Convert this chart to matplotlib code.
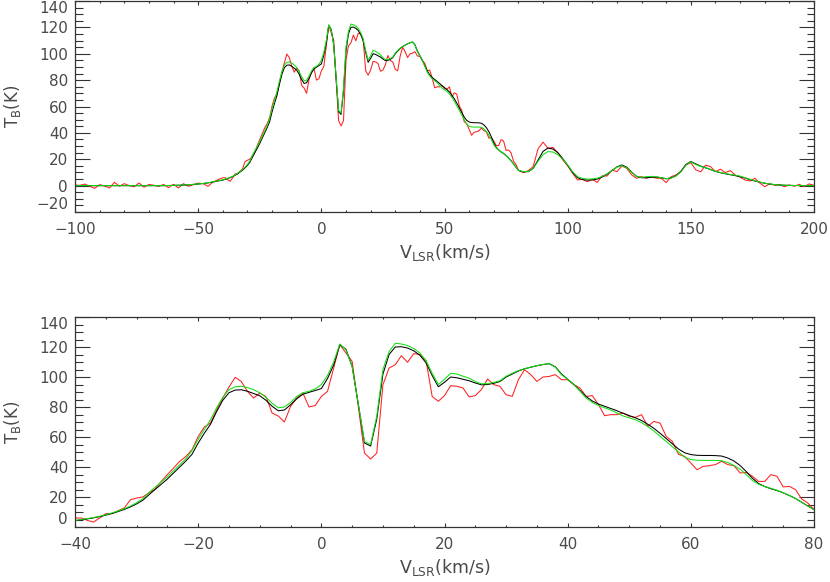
import numpy as np
import matplotlib
matplotlib.use("Agg")
import matplotlib.pyplot as plt
from matplotlib.ticker import MultipleLocator

plt.rcParams["font.family"] = ["DejaVu Sans"]
plt.rcParams["mathtext.default"] = "regular"

# velocity grids (km/s): coarse outside, 1 km/s in the zoomed range
v_lo = np.arange(-100, -41, 2)
v_mid = np.arange(-40, 81, 1)
v_hi = np.arange(82, 201, 2)

# observed spectrum (red)
red_lo = [0.5, 0.2, 1.2, -0.5, -2.0, 0.8, -0.3, -1.8, 2.5, -0.4,
          1.5, 0.0, -0.8, 2.0, -1.2, 0.9, 0.3, -0.6, 0.9, -1.5,
          1.0, -1.8, 1.5, -0.5, 0.7, 1.9, 1.5, -0.5, 2.8, 4.5]
red_mid = [6.0, 6.0, 4.4, 3.3, 6.0, 8.9, 8.9, 10.9, 12.7, 18.2,
           19.3, 20.0, 22.7, 25.3, 30.4, 35.0, 39.3, 43.8, 47.0, 51.6,
           60.4, 66.7, 69.3, 78.2, 86.0, 93.3, 99.8, 97.0, 90.4, 86.0,
           89.3, 87.0, 76.0, 74.0, 70.0, 80.4, 86.0, 89.3, 80.0, 81.0,
           87.0, 90.4, 106.0, 121.6, 116.0, 110.4, 80.4, 49.3, 45.3, 49.3,
           94.9, 106.0, 108.2, 114.2, 109.8, 115.6, 115.0, 111.0, 87.0, 83.8,
           87.6, 94.2, 93.8, 92.7, 86.7, 87.6, 91.6, 98.7, 94.9, 93.8,
           88.2, 87.1, 98.2, 104.9, 101.6, 97.1, 100.0, 100.4, 101.6, 98.2,
           98.2, 94.9, 92.7, 87.1, 87.6, 81.6, 74.2, 74.9, 74.9, 76.0,
           73.8, 73.1, 74.9, 67.1, 70.4, 69.3, 60.4, 57.1, 48.4, 47.1,
           42.7, 38.2, 40.4, 40.9, 41.6, 43.8, 41.6, 40.9, 36.0, 36.4,
           33.8, 30.4, 30.4, 34.9, 33.8, 26.7, 27.1, 24.9, 18.7, 16.0,
           11.6]
red_hi = [9.9, 11.4, 14.4, 28.0, 33.0, 28.3, 29.0, 25.0, 19.5, 15.0,
          9.4, 4.3, 4.8, 3.0, 4.8, 2.5, 7.5, 7.3, 11.9, 10.6,
          14.9, 13.1, 8.1, 5.6, 6.8, 5.6, 6.8, 5.6, 5.6, 2.3,
          6.8, 8.1, 10.6, 15.7, 17.4, 12.0, 10.5, 15.5, 14.4, 10.6,
          12.5, 9.9, 11.4, 8.1, 6.5, 4.3, 3.5, 5.6, 2.0, -0.8,
          1.3, 0.3, 0.8, -0.8, 0.5, -0.5, 1.0, -0.8, 1.3, 0.3]

# model fit (black)
black_lo = [0.0] * 19 + [0.1,
            0.2, 0.3, 0.4, 0.6, 0.9, 1.2, 1.6, 2.1, 2.7, 3.5]
black_mid = [4.2, 4.8, 5.4, 6.1, 6.9, 7.9, 9.0, 10.3, 11.7, 13.4,
             15.4, 17.8, 21.5, 25.0, 28.5, 32.0, 36.0, 40.0, 44.0, 48.5,
             56.0, 62.5, 68.5, 77.0, 84.5, 89.5, 91.3, 91.5, 90.5, 89.0,
             87.5, 84.5, 80.5, 77.5, 78.0, 81.5, 85.5, 88.5, 89.8, 91.0,
             92.3, 99.0, 108.0, 121.5, 118.5, 107.0, 82.0, 56.0, 54.0, 72.0,
             102.0, 115.0, 120.0, 120.2, 119.3, 117.5, 114.5, 109.5, 101.0, 93.5,
             96.5, 100.0, 99.5, 98.5, 97.5, 96.0, 94.8, 95.0, 95.8, 97.0,
             100.0, 102.0, 104.0, 105.5, 106.5, 107.5, 108.3, 108.9, 106.8, 102.0,
             98.5, 95.0, 91.0, 87.0, 84.0, 82.0, 80.5, 79.0, 77.5, 75.8,
             74.3, 72.8, 71.0, 68.5, 65.8, 62.5, 59.0, 55.5, 52.0, 49.5,
             48.3, 47.8, 47.7, 47.7, 47.6, 47.3, 46.0, 44.0, 41.0, 37.0,
             32.5, 29.0, 27.0, 25.5, 24.3, 22.8, 21.0, 19.0, 16.5, 14.0,
             11.6]
black_hi = [10.4, 10.6, 13.0, 19.5, 26.0, 28.5, 27.8, 25.0, 20.5, 15.5,
            10.0, 6.0, 4.6, 4.2, 4.3, 5.0, 6.5, 8.7, 11.5, 14.2,
            15.7, 14.0, 10.2, 7.0, 6.0, 6.0, 6.4, 6.5, 6.0, 5.2,
            5.8, 7.5, 11.0, 16.0, 18.3, 16.5, 14.8, 13.5, 12.2, 10.8,
            9.8, 9.0, 8.3, 7.6, 6.8, 5.8, 4.6, 3.5, 2.6, 1.8,
            1.2, 0.8, 0.5, 0.3, 0.2, 0.1, 0.1, 0.0, 0.0, 0.0]

# second model fit (green)
green_lo = [0.0] * 19 + [0.1,
            0.2, 0.3, 0.5, 0.7, 1.0, 1.3, 1.7, 2.2, 2.9, 3.7]
green_mid = [4.4, 5.0, 5.6, 6.3, 7.1, 8.2, 9.4, 10.7, 12.2, 14.0,
             16.2, 18.8, 23.0, 26.5, 30.0, 33.5, 37.5, 41.5, 45.5, 51.0,
             58.5, 65.0, 71.5, 79.5, 86.5, 91.5, 93.5, 93.8, 93.0, 91.5,
             89.5, 86.5, 82.5, 79.5, 80.0, 83.0, 87.0, 89.5, 90.5, 92.0,
             95.0, 101.0, 110.0, 122.0, 118.0, 107.0, 82.0, 57.0, 55.0, 74.0,
             105.0, 117.0, 122.5, 122.0, 121.0, 119.0, 116.0, 111.0, 102.5, 95.0,
             98.5, 102.5, 102.0, 100.5, 99.3, 97.0, 95.5, 95.5, 96.4, 97.5,
             100.5, 102.5, 104.3, 105.5, 106.6, 107.6, 108.4, 108.9, 106.5, 101.5,
             98.5, 95.0, 90.5, 86.0, 83.0, 81.0, 79.5, 78.0, 76.0, 74.0,
             72.8, 71.5, 69.5, 67.0, 64.0, 60.5, 57.0, 53.5, 50.0, 46.5,
             45.0, 44.5, 44.4, 44.4, 44.4, 44.2, 43.0, 41.0, 38.5, 35.0,
             31.0, 28.5, 27.0, 25.8, 24.5, 22.8, 21.0, 19.0, 16.5, 14.0,
             11.6]
green_hi = [10.6, 10.8, 13.0, 18.5, 23.5, 25.8, 25.5, 23.5, 20.0, 15.7,
            10.5, 6.8, 5.4, 5.0, 5.1, 5.6, 7.0, 9.0, 11.5, 13.9,
            15.2, 13.5, 10.0, 7.0, 6.3, 6.8, 7.0, 6.8, 6.0, 5.3,
            5.8, 7.3, 10.5, 15.5, 18.0, 16.0, 14.5, 13.6, 12.3, 10.8,
            10.0, 9.2, 8.5, 7.9, 7.2, 6.0, 4.8, 3.7, 2.7, 1.9,
            1.3, 0.8, 0.5, 0.3, 0.2, 0.1, 0.1, 0.0, 0.0, 0.0]

v = np.concatenate([v_lo, v_mid, v_hi])
red = np.concatenate([red_lo, red_mid, red_hi])
black = np.concatenate([black_lo, black_mid, black_hi])
green = np.concatenate([green_lo, green_mid, green_hi])

fig = plt.figure(figsize=(8.3, 5.82), dpi=100)
ax1 = fig.add_axes([0.0904, 0.6357, 0.8903, 0.3626])
ax2 = fig.add_axes([0.0904, 0.0945, 0.8903, 0.3608])

panels = [
    (ax1, (-100, 200), (-20, 140), 50, 10),
    (ax2, (-40, 80), (0, 140), 20, 5),
]

for ax, xlim, ylim, xmaj, xmin in panels:
    ax.plot(v, red, color="#ff2020", lw=0.75)
    ax.plot(v, black, color="black", lw=0.75)
    ax.plot(v, green, color="#10e010", lw=0.75)

    ax.set_xlim(*xlim)
    ax.set_ylim(*ylim)
    ax.set_xticks(np.arange(xlim[0], xlim[1] + 1, xmaj))
    ax.set_yticks(np.arange(ylim[0], ylim[1] + 1, 20))
    ax.xaxis.set_minor_locator(MultipleLocator(xmin))
    ax.yaxis.set_minor_locator(MultipleLocator(5))

    ax.tick_params(which="both", direction="in", top=True, right=True,
                   color="#333333", labelcolor="#4a4a4a", labelsize=11,
                   width=0.8)
    ax.tick_params(axis="y", which="major", length=10.8, pad=5)
    ax.tick_params(axis="y", which="minor", length=5.4)
    ax.tick_params(axis="x", which="major", length=3, pad=7)
    ax.tick_params(axis="x", which="minor", length=1.5)
    for s in ax.spines.values():
        s.set_color("#333333")
        s.set_linewidth(0.9)

    # end labels sit inside the axis range, as in the original
    yt = ax.yaxis.get_major_ticks()
    yt[0].label1.set_verticalalignment("bottom")
    yt[-1].label1.set_verticalalignment("top")

    ax.set_xlabel("V$_{LSR}$(km/s)", color="#4a4a4a", fontsize=12.5,
                  labelpad=4)
    ax.set_ylabel("T$_B$(K)", color="#4a4a4a", fontsize=12)
    ax.yaxis.set_label_coords(-0.071, 0.5)

fig.savefig("out.png", dpi=100)
